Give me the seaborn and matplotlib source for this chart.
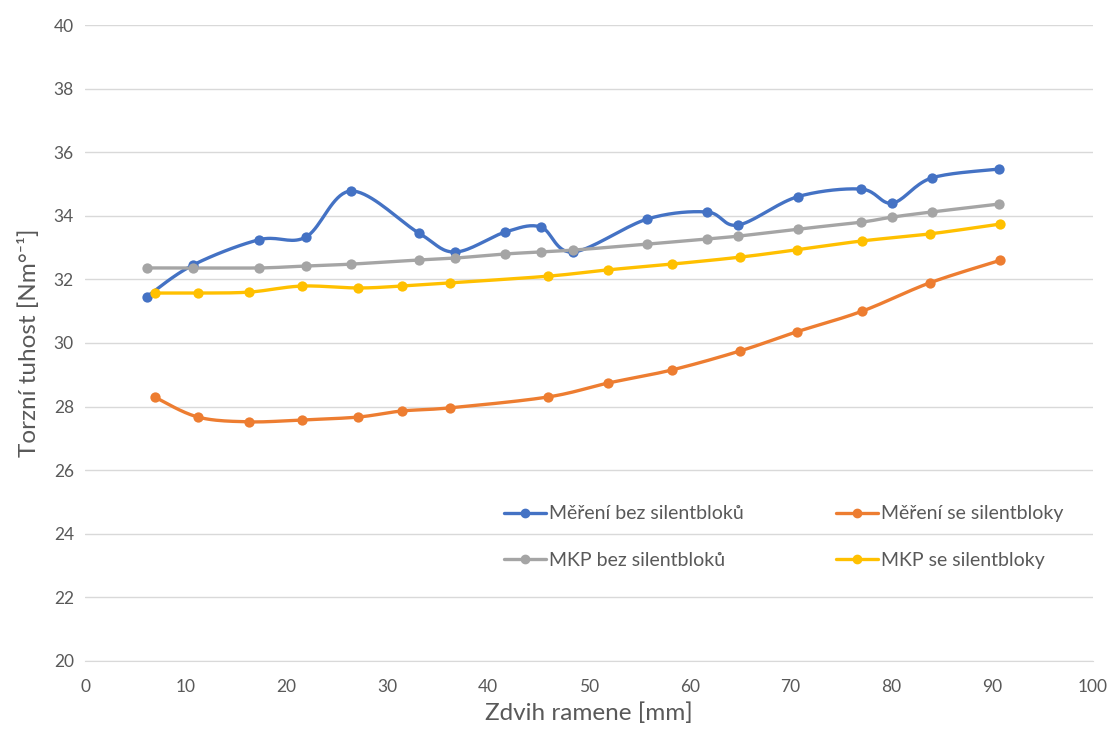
import matplotlib
matplotlib.use("Agg")
import matplotlib.pyplot as plt
from matplotlib.lines import Line2D
import numpy as np
import pandas as pd
import seaborn as sns

# Měření bez silentbloků
x_mer_bez = [6.1, 10.7, 17.3, 21.9, 26.4, 33.1, 36.7, 41.7, 45.2, 48.4, 55.8, 61.7, 64.8, 70.7, 77.0, 80.1, 84.0, 90.7]
y_mer_bez = [31.45, 32.45, 33.25, 33.33, 34.78, 33.46, 32.86, 33.49, 33.65, 32.86, 33.90, 34.12, 33.71, 34.60, 34.84, 34.40, 35.19, 35.47]

# MKP bez silentbloků
x_mkp_bez = x_mer_bez
y_mkp_bez = [32.36, 32.36, 32.36, 32.42, 32.48, 32.61, 32.67, 32.80, 32.86, 32.92, 33.11, 33.27, 33.36, 33.58, 33.80, 33.96, 34.12, 34.37]

# Měření se silentbloky
x_mer_se = [6.9, 11.2, 16.3, 21.5, 27.1, 31.4, 36.2, 45.9, 51.9, 58.2, 65.0, 70.6, 77.1, 83.8, 90.8]
y_mer_se = [28.30, 27.67, 27.52, 27.58, 27.67, 27.86, 27.96, 28.30, 28.74, 29.15, 29.75, 30.35, 31.00, 31.89, 32.60]

# MKP se silentbloky
x_mkp_se = x_mer_se
y_mkp_se = [31.57, 31.57, 31.60, 31.79, 31.73, 31.79, 31.89, 32.10, 32.30, 32.48, 32.70, 32.93, 33.21, 33.43, 33.74]

labels = ["Měření bez silentbloků", "Měření se silentbloky", "MKP bez silentbloků", "MKP se silentbloky"]
colors = ["#4472C4", "#ED7D31", "#A5A5A5", "#FFC000"]
series = [(x_mer_bez, y_mer_bez), (x_mer_se, y_mer_se), (x_mkp_bez, y_mkp_bez), (x_mkp_se, y_mkp_se)]


def smooth(xs, ys, n=20):
    # Excel-like smoothed line (Catmull-Rom through the data points)
    p = np.column_stack([xs, ys]).astype(float)
    p = np.vstack([p[0], p, p[-1]])
    out = []
    t = np.linspace(0, 1, n)[:, None]
    for i in range(1, len(p) - 2):
        p0, p1, p2, p3 = p[i - 1], p[i], p[i + 1], p[i + 2]
        c1 = p1 + (p2 - p0) / 6
        c2 = p2 - (p3 - p1) / 6
        seg = ((1 - t) ** 3) * p1 + 3 * ((1 - t) ** 2) * t * c1 + 3 * (1 - t) * t ** 2 * c2 + t ** 3 * p2
        out.append(seg if i == 1 else seg[1:])
    out = np.vstack(out)
    return out[:, 0], out[:, 1]


sns.set_style("white")
plt.rcParams["font.family"] = ["Lato", "DejaVu Sans"]

fig = plt.figure(figsize=(11.13, 7.36), dpi=100)
ax = fig.add_axes([0.0764, 0.102, 0.9056, 0.864])

for (xs, ys), c, lab in zip(series, colors, labels):
    sx, sy = smooth(xs, ys)
    sns.lineplot(x=sx, y=sy, sort=False, color=c, lw=2.4, ax=ax, zorder=3)
    sns.scatterplot(x=xs, y=ys, color=c, s=55, edgecolor=c, linewidth=0, ax=ax, zorder=4)

ax.set_xlim(0, 100)
ax.set_ylim(20, 40)
ax.set_xticks(np.arange(0, 101, 10))
ax.set_yticks(np.arange(20, 41, 2))
ax.yaxis.grid(True, color="#D9D9D9", lw=1)
ax.xaxis.grid(False)
for s in ["top", "right", "left"]:
    ax.spines[s].set_visible(False)
ax.spines["bottom"].set_color("#D9D9D9")
ax.tick_params(axis="both", length=0, labelsize=12.5, labelcolor="#595959", pad=8)
ax.tick_params(axis="x", length=5, color="#D9D9D9", direction="out")

ax.set_xlabel("Zdvih ramene [mm]", fontsize=17.5, color="#595959", labelpad=5)
ax.set_ylabel("Torzní tuhost [Nm°⁻¹]", fontsize=17.5, color="#595959", labelpad=10)

# legend fills row-wise in the reference: reorder for matplotlib's column-wise fill
order = [0, 2, 1, 3]
handles = [Line2D([0], [0], color=colors[i], lw=2.4, marker="o", markersize=6) for i in order]
ax.legend(handles, [labels[i] for i in order], ncol=2, loc="upper left", bbox_to_anchor=(0.398, 0.272),
          frameon=False, fontsize=14, labelcolor="#595959", handlelength=2.2,
          handletextpad=0.15, columnspacing=4.7, labelspacing=1.5)

fig.savefig("out.png", dpi=100)
